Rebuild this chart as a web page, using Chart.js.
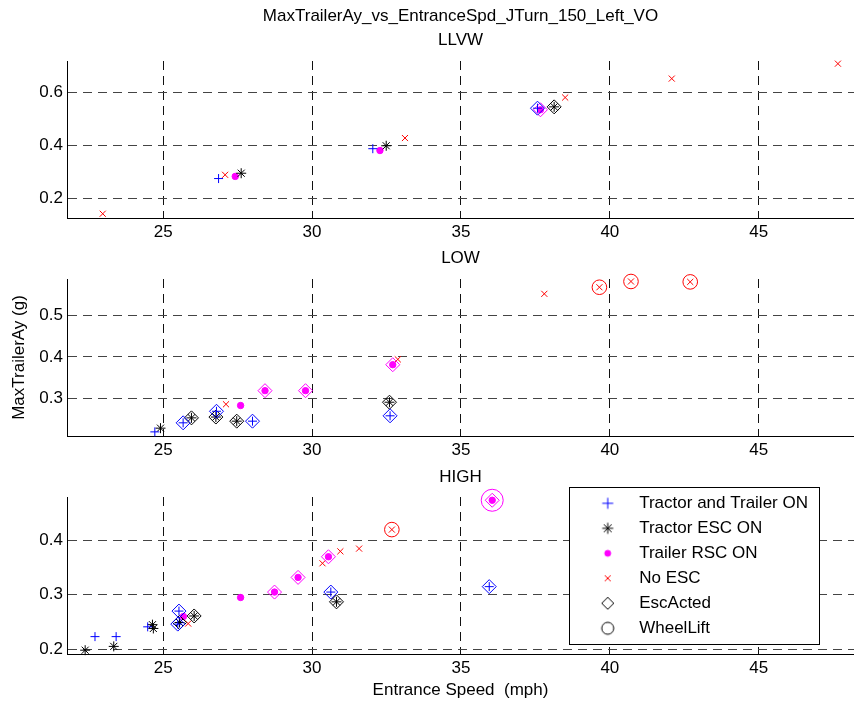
<!DOCTYPE html>
<html>
<head>
<meta charset="utf-8">
<title>MaxTrailerAy vs EntranceSpd</title>
<script src="https://cdn.jsdelivr.net/npm/chart.js@4.4.1/dist/chart.umd.min.js"></script>
<style>
  body { margin: 0; background: #fff; }
  #wrap { position: relative; width: 854px; height: 705px; overflow: hidden; }
  #wrap canvas { position: absolute; left: 0; }
</style>
</head>
<body>
<div id="wrap">
  <canvas id="cvLlvw" width="854" height="240" style="top:0px"></canvas>
  <canvas id="cvLow" width="854" height="220" style="top:240px"></canvas>
  <canvas id="cvHigh" width="854" height="245" style="top:460px"></canvas>
</div>
<script>
// axis limits and ticks
var xRange = [21.77, 48.2];
var xTicks = [25, 30, 35, 40, 45];
var llvwRange = [0.128, 0.717];
var llvwTicks = [0.2, 0.4, 0.6];
var lowRange = [0.208, 0.589];
var lowTicks = [0.3, 0.4, 0.5];
var highRange = [0.191, 0.48];
var highTicks = [0.2, 0.3, 0.4];

var seriesNames = ['Tractor and Trailer ON', 'Tractor ESC ON', 'Trailer RSC ON', 'No ESC'];
var flagNames = ['EscActed', 'WheelLift'];

// LLVW
var llvwTtSpd = [26.86, 32.04, 37.57];
var llvwTtAy = [0.276, 0.388, 0.540];
var llvwTtEsc = [0, 0, 1];
var llvwTtLift = [0, 0, 0];
var llvwTescSpd = [27.62, 32.49, 38.13];
var llvwTescAy = [0.296, 0.399, 0.545];
var llvwTescEsc = [0, 0, 1];
var llvwTescLift = [0, 0, 0];
var llvwRscSpd = [27.42, 32.28, 37.67];
var llvwRscAy = [0.284, 0.381, 0.534];
var llvwRscEsc = [0, 0, 1];
var llvwRscLift = [0, 0, 0];
var llvwNoSpd = [22.97, 27.08, 33.12, 38.50, 42.08, 47.66];
var llvwNoAy = [0.144, 0.290, 0.428, 0.580, 0.651, 0.707];
var llvwNoEsc = [0, 0, 0, 0, 0, 0];
var llvwNoLift = [0, 0, 0, 0, 0, 0];

// LOW
var lowTtSpd = [24.72, 25.67, 26.79, 28.00, 32.62];
var lowTtAy = [0.218, 0.240, 0.268, 0.244, 0.257];
var lowTtEsc = [0, 1, 1, 1, 1];
var lowTtLift = [0, 0, 0, 0, 0];
var lowTescSpd = [24.91, 25.95, 26.77, 27.47, 32.60];
var lowTescAy = [0.227, 0.252, 0.254, 0.244, 0.290];
var lowTescEsc = [0, 1, 1, 1, 1];
var lowTescLift = [0, 0, 0, 0, 0];
var lowRscSpd = [27.60, 28.42, 29.78, 32.71];
var lowRscAy = [0.282, 0.318, 0.318, 0.381];
var lowRscEsc = [0, 1, 1, 1];
var lowRscLift = [0, 0, 0, 0];
var lowNoSpd = [27.11, 32.88, 37.80, 39.65, 40.71, 42.70];
var lowNoAy = [0.285, 0.394, 0.553, 0.569, 0.583, 0.582];
var lowNoEsc = [0, 0, 0, 0, 0, 0];
var lowNoLift = [0, 0, 0, 1, 1, 1];

// HIGH
var highTtSpd = [22.71, 23.42, 24.48, 25.53, 25.49, 30.63, 35.95];
var highTtAy = [0.223, 0.223, 0.241, 0.270, 0.246, 0.305, 0.315];
var highTtEsc = [0, 0, 0, 1, 1, 1, 1];
var highTtLift = [0, 0, 0, 0, 0, 0, 0];
var highTescSpd = [22.38, 23.34, 24.64, 24.67, 25.55, 26.04, 30.82];
var highTescAy = [0.198, 0.205, 0.245, 0.238, 0.249, 0.261, 0.287];
var highTescEsc = [0, 0, 0, 0, 1, 1, 1];
var highTescLift = [0, 0, 0, 0, 0, 0, 0];
var highRscSpd = [25.68, 27.60, 28.74, 29.53, 30.55, 36.05];
var highRscAy = [0.260, 0.295, 0.305, 0.332, 0.370, 0.474];
var highRscEsc = [0, 0, 1, 1, 1, 1];
var highRscLift = [0, 0, 0, 0, 0, 1];
var highNoSpd = [25.84, 30.35, 30.95, 31.58, 32.68];
var highNoAy = [0.247, 0.358, 0.380, 0.385, 0.420];
var highNoEsc = [0, 0, 0, 0, 0];
var highNoLift = [0, 0, 0, 0, 1];

// marker look per series (blue +, black *, magenta dot, red x)
var markerStyle = ['cross', 'star', 'circle', 'crossRot'];
var markerColor = ['#0000ff', '#000000', '#ff00ff', '#ff0000'];
var markerRadius = [4.5, 5, 3.2, 4.3];
var markerFilled = [false, false, true, false];
var escRadius = 7;
var liftRadius = [7, 7, 11, 7.3];

var FONT = "'Liberation Sans', Arial, Helvetica, sans-serif";
Chart.defaults.font.family = FONT;
Chart.defaults.font.size = 17;
Chart.defaults.color = '#000';

var CLEAR = 'rgba(0,0,0,0)';

function points(spd, ay) {
    return spd.map(function (x, k) { return { x: x, y: ay[k] }; });
}

function panelDatasets(spd, ay, esc, lift) {
    var sets = [];
    for (var i = 0; i < 4; i++) {
        var pts = points(spd[i], ay[i]);
        sets.push({
            label: seriesNames[i],
            data: pts,
            clip: false,
            pointStyle: markerStyle[i],
            pointRadius: markerRadius[i],
            pointBorderWidth: 1,
            pointBorderColor: markerColor[i],
            pointBackgroundColor: markerFilled[i] ? markerColor[i] : CLEAR
        });
        var escPts = pts.filter(function (p, k) { return esc[i][k]; });
        if (escPts.length) {
            sets.push({
                label: flagNames[0],
                data: escPts,
                clip: false,
                pointStyle: 'rectRot',
                pointRadius: escRadius,
                pointBorderWidth: 1,
                pointBorderColor: markerColor[i],
                pointBackgroundColor: CLEAR
            });
        }
        var liftPts = pts.filter(function (p, k) { return lift[i][k]; });
        if (liftPts.length) {
            sets.push({
                label: flagNames[1],
                data: liftPts,
                clip: false,
                pointStyle: 'circle',
                pointRadius: liftRadius[i],
                pointBorderWidth: 1,
                pointBorderColor: markerColor[i],
                pointBackgroundColor: CLEAR
            });
        }
    }
    return sets;
}

// small canvases used as legend symbols
function makeIcon(style, radius, color, filled) {
    var c = document.createElement('canvas');
    c.width = 24;
    c.height = 24;
    var ctx = c.getContext('2d');
    ctx.strokeStyle = color;
    ctx.fillStyle = filled ? color : CLEAR;
    ctx.lineWidth = 1;
    Chart.helpers.drawPoint(ctx, { pointStyle: style, radius: radius, rotation: 0, borderWidth: 1 }, 12, 12);
    return c;
}

var legendItems = [
    { text: seriesNames[0], pointStyle: makeIcon('cross', 5.5, markerColor[0], false) },
    { text: seriesNames[1], pointStyle: makeIcon('star', 5.5, markerColor[1], false) },
    { text: seriesNames[2], pointStyle: makeIcon('circle', 3, markerColor[2], true) },
    { text: seriesNames[3], pointStyle: makeIcon('crossRot', 4.2, markerColor[3], false) },
    { text: flagNames[0], pointStyle: makeIcon('rectRot', 6, '#000', false) },
    { text: flagNames[1], pointStyle: makeIcon('circle', 6, '#000', false) }
].map(function (it, i) {
    it.fillStyle = CLEAR;
    it.strokeStyle = '#000';
    it.lineWidth = 1;
    it.hidden = false;
    it.fontColor = '#000';
    it.datasetIndex = i;
    return it;
});

// legend framed box inside the bottom axes (canvas coords)
var legendFrame = { left: 569, top: 27, right: 819, bottom: 184 };

var legendFramePlugin = {
    id: 'legendFrame',
    afterLayout: function (chart) {
        var lg = chart.legend;
        lg.update(300, 220, { left: 0, top: 0, right: 0, bottom: 0 });
        lg.left = legendFrame.left + 7.7;
        lg.top = legendFrame.top - 0.2;
        lg.width = 250;
        lg.height = 200;
        lg.right = lg.left + lg.width;
        lg.bottom = lg.top + lg.height;
    },
    afterDraw: function (chart) {
        var ctx = chart.ctx;
        var f = legendFrame;
        ctx.save();
        ctx.fillStyle = '#fff';
        ctx.fillRect(f.left, f.top, f.right - f.left, f.bottom - f.top);
        ctx.strokeStyle = '#000';
        ctx.lineWidth = 1;
        ctx.strokeRect(f.left + 0.5, f.top + 0.5, f.right - f.left, f.bottom - f.top);
        ctx.restore();
        chart.legend.draw();
    }
};

function drawPanel(cv, p) {
    var gridX = { color: '#111', lineWidth: 1, drawTicks: false };
    var gridY = { color: '#444', lineWidth: 1, drawTicks: false };
    var border = { display: true, color: '#000', width: 1, dash: [9, 6] };
    return new Chart(cv, {
        type: 'scatter',
        data: { datasets: p.datasets },
        options: {
            responsive: false,
            animation: false,
            events: [],
            layout: { padding: 0, autoPadding: false },
            plugins: {
                tooltip: { enabled: false },
                title: {
                    display: true,
                    text: p.title,
                    fullSize: false,
                    color: '#000',
                    font: { size: 17, weight: 'normal', lineHeight: '24px' },
                    padding: p.titlePad
                },
                legend: p.legend ? {
                    display: true,
                    position: 'chartArea',
                    align: 'start',
                    labels: {
                        usePointStyle: true,
                        pointStyleWidth: 46,
                        padding: 8,
                        color: '#000',
                        font: { size: 17 },
                        generateLabels: function () { return legendItems; }
                    }
                } : { display: false }
            },
            scales: {
                x: {
                    type: 'linear',
                    min: xRange[0],
                    max: xRange[1],
                    bounds: 'data',
                    afterBuildTicks: function (s) { s.ticks = xTicks.map(function (v) { return { value: v }; }); },
                    afterFit: function (s) { s.height = p.xHeight; },
                    grid: gridX,
                    border: border,
                    ticks: { padding: 4.5, maxRotation: 0, autoSkip: false, font: { size: 17, lineHeight: '20px' } },
                    title: {
                        display: !!p.xTitle,
                        text: p.xTitle || '',
                        font: { size: 17, lineHeight: '20px' },
                        padding: { top: 0, bottom: 5 }
                    }
                },
                y: {
                    type: 'linear',
                    min: p.yRange[0],
                    max: p.yRange[1],
                    bounds: 'data',
                    afterBuildTicks: function (s) { s.ticks = p.yTicks.map(function (v) { return { value: v }; }); },
                    afterFit: function (s) { s.width = 67; },
                    grid: gridY,
                    border: border,
                    ticks: { padding: 4, font: { size: 17 } },
                    title: {
                        display: !!p.yTitle,
                        text: p.yTitle || '',
                        font: { size: 17, lineHeight: '20px' },
                        padding: { top: 9, bottom: 0 }
                    }
                }
            }
        },
        plugins: p.legend ? [legendFramePlugin] : []
    });
}

drawPanel(document.getElementById('cvLlvw'), {
    title: ['MaxTrailerAy_vs_EntranceSpd_JTurn_150_Left_VO', 'LLVW'],
    titlePad: { top: 4, bottom: 9 },
    xHeight: 22,
    yRange: llvwRange,
    yTicks: llvwTicks,
    datasets: panelDatasets(
        [llvwTtSpd, llvwTescSpd, llvwRscSpd, llvwNoSpd],
        [llvwTtAy, llvwTescAy, llvwRscAy, llvwNoAy],
        [llvwTtEsc, llvwTescEsc, llvwRscEsc, llvwNoEsc],
        [llvwTtLift, llvwTescLift, llvwRscLift, llvwNoLift])
});

drawPanel(document.getElementById('cvLow'), {
    title: 'LOW',
    titlePad: { top: 6, bottom: 9 },
    xHeight: 24,
    yRange: lowRange,
    yTicks: lowTicks,
    yTitle: 'MaxTrailerAy (g)',
    datasets: panelDatasets(
        [lowTtSpd, lowTescSpd, lowRscSpd, lowNoSpd],
        [lowTtAy, lowTescAy, lowRscAy, lowNoAy],
        [lowTtEsc, lowTescEsc, lowRscEsc, lowNoEsc],
        [lowTtLift, lowTescLift, lowRscLift, lowNoLift])
});

drawPanel(document.getElementById('cvHigh'), {
    title: 'HIGH',
    titlePad: { top: 5, bottom: 8 },
    xHeight: 51,
    yRange: highRange,
    yTicks: highTicks,
    xTitle: 'Entrance Speed  (mph)',
    legend: true,
    datasets: panelDatasets(
        [highTtSpd, highTescSpd, highRscSpd, highNoSpd],
        [highTtAy, highTescAy, highRscAy, highNoAy],
        [highTtEsc, highTescEsc, highRscEsc, highNoEsc],
        [highTtLift, highTescLift, highRscLift, highNoLift])
});
</script>
</body>
</html>
